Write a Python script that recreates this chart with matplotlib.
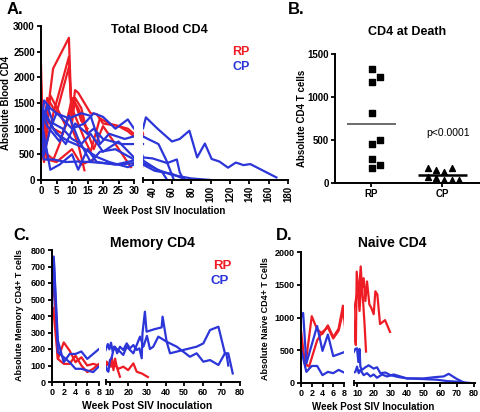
import matplotlib
matplotlib.use('Agg')
import matplotlib.pyplot as plt
import numpy as np

plt.rcParams['font.family'] = ['Liberation Sans', 'DejaVu Sans']
plt.rcParams['font.weight'] = 'bold'

RED = '#ee1c24'
BLUE = '#2b35d8'

# ---------------- Panel A: Total Blood CD4 ----------------
a_red_weeks = [
    [0, 0.7, 2.3, 3.9, 9, 10, 12, 14],
    [0, 1, 4, 9, 10, 11, 13, 15],
    [0, 1, 2, 5, 9, 10, 11, 12, 16, 18, 20, 25, 28, 30],
    [0, 1, 3, 6, 8, 10, 12, 14, 17, 20, 24, 29],
    [0, 2, 4, 6, 9, 11, 13, 15],
    [0, 1, 2, 4, 7, 10, 12, 14, 16, 19, 22, 28, 30],
    [0, 2, 5, 8, 10, 13, 17],
]
a_red_vals = [
    [2250, 450, 1400, 2170, 2770, 1000, 700, 190],
    [1900, 500, 1300, 2400, 1100, 1600, 1400, 900],
    [1200, 1000, 1600, 1300, 2200, 1300, 1750, 1700, 1300, 1280, 1100, 1050, 950, 850],
    [600, 350, 1650, 1300, 1050, 1600, 1400, 1100, 600, 1050, 700, 250],
    [900, 500, 400, 700, 1300, 1500, 1150, 1000],
    [400, 600, 1200, 1000, 900, 1400, 1100, 800, 550, 1200, 1100, 1000, 900],
    [1400, 400, 350, 500, 600, 300, 400],
]
a_blue_weeks = [
    [0, 1, 3, 6, 10, 14, 17, 20, 24, 28, 30, 33, 45, 60, 68, 78, 86, 94, 101, 109, 118, 126, 134, 141, 168],
    [0, 1, 3, 5, 9, 13, 16, 19, 22, 27, 30, 35, 46, 54, 62],
    [0, 2, 4, 7, 10, 13, 16, 20, 25, 30, 40, 55, 65, 68, 72],
    [0, 3, 6, 10, 12, 15, 18, 24, 30, 45, 60, 80, 100],
    [0, 1, 4, 8, 12, 16, 20, 25, 30, 40, 50, 55],
    [0, 2, 5, 9, 13, 18, 22, 28, 30, 42, 60, 75],
    [0, 1, 4, 8, 11, 15, 17, 20, 26, 30],
    [0, 2, 6, 9, 12, 16, 19, 24, 30],
]
a_blue_vals = [
    [800, 1550, 1400, 1250, 1000, 1100, 1300, 1230, 1000, 1180, 1000, 1220, 1000, 750, 800, 960, 440, 710, 410, 360, 240, 340, 290, 310, 50],
    [1500, 500, 1000, 1300, 1200, 1300, 1250, 700, 900, 800, 850, 800, 700, 390, 0],
    [1000, 1450, 1100, 1000, 800, 700, 900, 550, 750, 440, 420, 330, 400, 150, 0],
    [1200, 200, 300, 500, 200, 600, 350, 300, 380, 200, 100, 30, 0],
    [600, 400, 400, 350, 360, 350, 330, 300, 330, 250, 150, 0],
    [1300, 1200, 900, 750, 650, 450, 350, 250, 300, 180, 120, 0],
    [450, 1350, 1000, 700, 1100, 900, 1000, 800, 700, 700],
    [1400, 1050, 750, 1250, 800, 350, 550, 600, 400],
]

# ---------------- Panel B: CD4 at death ----------------
b_categories = ['RP', 'CP']
b_rp_vals = [1320, 1235, 1170, 810, 505, 450, 280, 205, 180]
b_cp_vals = [180, 150, 130, 170, 65, 58, 30, 38, 40]
b_rp_jitter = [0.01, 0.12, 0.01, 0.01, 0.12, 0.01, 0.01, 0.12, 0.01]
b_cp_jitter = [-0.2, -0.09, 0.02, 0.13, -0.2, -0.09, 0.02, 0.13, 0.23]

# ---------------- Panel C: Memory CD4 ----------------
c_red_weeks = [
    [0, 0.3, 1, 2, 3, 4, 5, 6, 7, 8, 8.4, 10.2, 11.1, 12, 12.9, 13.8, 14.7, 15.5],
    [0, 0.2, 1, 2, 3, 4, 5, 6, 7, 8, 8.4, 10, 11.5, 12.9, 14.7, 17.3, 19.9, 22.7, 24.5, 27.2, 30.5],
]
c_red_vals = [
    [500, 620, 140, 240, 190, 120, 150, 100, 110, 100, 123, 93, 153, 72, 142, 90, 60, 32],
    [400, 450, 140, 110, 110, 160, 100, 60, 80, 110, 103, 110, 90, 103, 80, 93, 72, 113, 62, 52, 30],
]
c_blue_weeks = [
    [0, 0.3, 1, 2, 3, 4, 5, 6, 7, 8, 9, 9.8, 10.7, 11.6, 12.8, 14, 15.5, 17.3, 19.1, 20.9, 22.7,
     24.5, 25.9, 27.2, 27.6, 28.9, 29.8, 34, 37.9, 38.4, 40.6, 42.4, 49.5, 56.7, 60.3, 63.9,
     68.4, 71.9, 72.8, 73.7],
    [0, 0.3, 1, 2, 3, 4, 5, 6, 7, 8, 8.5, 9.3, 10.1, 11, 12.3, 14.6, 17.3, 19.1, 22.7, 26.3,
     28.1, 30, 31.6, 33.4, 36.1, 40.6, 46, 53.1, 56.7, 60.3, 63.9, 68.4, 71.9, 73.7, 76.1],
]
c_blue_vals = [
    [420, 760, 250, 120, 170, 170, 185, 140, 170, 200, 230, 198, 238, 184, 214, 174, 214, 194, 234,
     204, 224, 194, 204, 144, 295, 426, 305, 320, 331, 396, 244, 174, 194, 214, 234, 315, 335,
     174, 164, 100],
    [700, 740, 180, 150, 120, 80, 80, 70, 60, 95, 72, 62, 133, 144, 214, 194, 164, 214, 174, 275,
     214, 280, 200, 214, 275, 244, 214, 153, 174, 123, 133, 103, 174, 174, 52],
]

# ---------------- Panel D: Naive CD4 ----------------
d_red_weeks = [
    [0, 0.8, 2, 3, 4, 5, 6, 7, 7.8, 8.3, 9.3, 9.8, 11, 12.2, 13, 14, 15, 16, 17.4, 18.5, 20,
     21, 22.2, 23.8, 26.8, 29.8],
    [0, 0.7, 1.5, 3, 4, 5, 6, 7, 8, 8.5, 9.5, 10.5, 11.5, 12.5, 13.5, 14.5, 15.4],
]
d_red_vals = [
    [800, 250, 1020, 820, 750, 880, 700, 830, 1180, 760, 580, 1700, 1300, 1780, 1450, 1600,
     1250, 1550, 1200, 1150, 1050, 1400, 1350, 900, 960, 780],
    [650, 300, 250, 650, 780, 850, 680, 800, 1150, 1150, 1300, 1420, 1100, 1520, 1300, 900, 480],
]
d_blue_weeks = [
    [0, 0.4, 1, 3, 4, 5, 6, 8, 9, 10, 10.8, 11.5, 12, 13, 15, 17, 20, 22, 24, 27, 30, 35, 40,
     50, 57, 62, 65, 70, 74],
    [0, 1, 2, 3, 4, 5, 6, 7, 8, 9, 10, 11, 12, 14, 16, 18, 20, 22, 25, 28, 32, 40, 50, 58, 64,
     70, 78],
]
d_blue_vals = [
    [1000, 1070, 300, 870, 490, 740, 410, 470, 520, 530, 320, 520, 250, 200, 240, 270, 220, 240,
     150, 160, 120, 90, 70, 70, 90, 100, 140, 60, 10],
    [520, 170, 260, 260, 120, 170, 150, 200, 160, 170, 250, 150, 200, 120, 150, 100, 130, 80,
     130, 100, 130, 70, 60, 50, 30, 20, 0],
]

# ---------------- layout helpers ----------------
W, H = 480, 412
fig = plt.figure(figsize=(4.8, 4.12), dpi=100)


def rect(x0, y0, x1, y1):
    return [x0 / W, 1 - y1 / H, (x1 - x0) / W, (y1 - y0) / H]


def ftext(x, y, s, **kw):
    kw.setdefault('ha', 'center')
    kw.setdefault('va', 'center')
    fig.text(x / W, 1 - y / H, s, **kw)


def style(ax, left=True, labelsize=7):
    for s in ['top', 'right']:
        ax.spines[s].set_visible(False)
    for s in ['bottom', 'left']:
        ax.spines[s].set_linewidth(1.4)
    ax.tick_params(width=1.3, length=3, labelsize=labelsize, pad=1.5)
    if not left:
        ax.spines['left'].set_visible(False)
        ax.tick_params(axis='y', left=False, labelleft=False)
    ax.patch.set_alpha(0)


def break_mark(ax, x):
    ax.set_xticks([x], minor=True)
    ax.tick_params(axis='x', which='minor', direction='inout', length=5, width=1.3)


def draw(axes, weeks, vals, color):
    for ax in axes:
        for w, v in zip(weeks, vals):
            ax.plot(w, v, color=color, lw=1.6, solid_joinstyle='round')


# ---------------- Panel A ----------------
axA1 = fig.add_axes(rect(41, 26, 134, 180))
axA2 = fig.add_axes(rect(143, 26, 288, 180))
draw([axA1, axA2], a_red_weeks, a_red_vals, RED)
draw([axA1, axA2], a_blue_weeks, a_blue_vals, BLUE)
for ax in (axA1, axA2):
    ax.set_ylim(0, 3000)
axA1.set_xlim(0, 30)
axA2.set_xlim(30, 180)
axA1.set_xticks(range(0, 31, 5))
axA1.set_yticks(range(0, 3001, 500))
axA2.set_xticks(range(40, 181, 20))
style(axA1)
style(axA2, left=False)
axA2.tick_params(axis='x', labelrotation=90)
break_mark(axA2, 30)

ftext(15, 10, 'A.', fontsize=12)
ftext(159, 30, 'Total Blood CD4', fontsize=9)
ftext(241, 52, 'RP', fontsize=9, color=RED)
ftext(241, 67, 'CP', fontsize=9, color=BLUE)
ftext(6, 103, 'Absolute Blood CD4', fontsize=7, rotation=90)
ftext(164, 211, 'Week Post SIV Inoculation', fontsize=7)

# ---------------- Panel B ----------------
axB = fig.add_axes(rect(335, 54, 480, 183))
axB.scatter(np.array(b_rp_jitter) + 0, b_rp_vals, marker='s', s=16, color='black', zorder=3)
axB.scatter(np.array(b_cp_jitter) + 1, b_cp_vals, marker='^', s=18, color='black', zorder=3)
axB.hlines(np.mean(b_rp_vals), -0.345, 0.345, color='#444444', lw=1.1)
axB.hlines(np.mean(b_cp_vals), 1 - 0.345, 1 + 0.345, color='black', lw=1.8)
axB.set_xlim(-0.51, 1.53)
axB.set_ylim(0, 1500)
axB.set_yticks([0, 500, 1000, 1500])
axB.set_xticks([0, 1])
axB.set_xticklabels(b_categories)
style(axB)
axB.text(1.08, 580, 'p<0.0001', fontsize=7.5, fontweight='normal', ha='center', va='center')

ftext(296, 10, 'B.', fontsize=12)
ftext(407, 32, 'CD4 at Death', fontsize=9)
ftext(302, 118, 'Absolute CD4 T cells', fontsize=7, rotation=90)

# ---------------- Panel C ----------------
axC1 = fig.add_axes(rect(52, 250, 99, 382))
axC2 = fig.add_axes(rect(106, 250, 240, 382))
draw([axC1, axC2], c_red_weeks, c_red_vals, RED)
draw([axC1, axC2], c_blue_weeks, c_blue_vals, BLUE)
for ax in (axC1, axC2):
    ax.set_ylim(0, 800)
axC1.set_xlim(0, 8)
axC2.set_xlim(8, 80)
axC1.set_xticks(range(0, 9, 2))
axC1.set_yticks(range(0, 801, 100))
axC2.set_xticks(range(10, 81, 10))
style(axC1, labelsize=6.5)
style(axC2, left=False, labelsize=6.5)
break_mark(axC2, 8)

ftext(22, 235, 'C.', fontsize=12)
ftext(152, 243, 'Memory CD4', fontsize=10)
ftext(222, 266, 'RP', fontsize=9.5, color=RED)
ftext(220, 281, 'CP', fontsize=9.5, color=BLUE)
ftext(20, 315, 'Absolute Memory CD4+ T cells', fontsize=6.5, rotation=90)
ftext(147, 406, 'Week Post SIV Inoculation', fontsize=7.5)

# ---------------- Panel D ----------------
axD1 = fig.add_axes(rect(301, 252, 344, 383))
axD2 = fig.add_axes(rect(353.7, 252, 475, 383))
draw([axD1, axD2], d_red_weeks, d_red_vals, RED)
draw([axD1, axD2], d_blue_weeks, d_blue_vals, BLUE)
for ax in (axD1, axD2):
    ax.set_ylim(0, 2000)
axD1.set_xlim(0, 8)
axD2.set_xlim(8, 80.8)
axD1.set_xticks(range(0, 9, 2))
axD1.set_yticks(range(0, 2001, 500))
axD2.set_xticks(range(10, 81, 10))
style(axD1, labelsize=6.5)
style(axD2, left=False, labelsize=6.5)
break_mark(axD2, 8)

ftext(284, 236, 'D.', fontsize=12)
ftext(392, 243, 'Naive CD4', fontsize=10)
ftext(265, 319, 'Absolute Naive CD4+ T Cells', fontsize=6.5, rotation=90)
ftext(373, 407, 'Week Post SIV Inoculation', fontsize=7)

fig.savefig('out.png', dpi=100)
